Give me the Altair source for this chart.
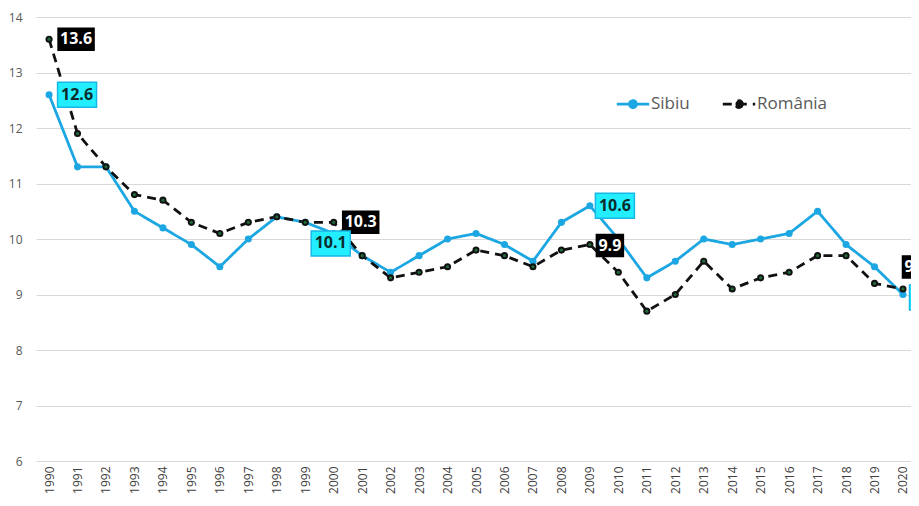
import altair as alt
import pandas as pd

years = list(range(1990, 2021))
sibiu = [12.6, 11.3, 11.3, 10.5, 10.2, 9.9, 9.5, 10.0, 10.4, 10.3, 10.1, 9.7, 9.4, 9.7, 10.0,
         10.1, 9.9, 9.6, 10.3, 10.6, 10.0, 9.3, 9.6, 10.0, 9.9, 10.0, 10.1, 10.5, 9.9, 9.5, 9.0]
romania = [13.6, 11.9, 11.3, 10.8, 10.7, 10.3, 10.1, 10.3, 10.4, 10.3, 10.3, 9.7, 9.3, 9.4, 9.5,
           9.8, 9.7, 9.5, 9.8, 9.9, 9.4, 8.7, 9.0, 9.6, 9.1, 9.3, 9.4, 9.7, 9.7, 9.2, 9.1]
series_names = ["Sibiu", "România"]
labelled_points = [("România", 1990), ("Sibiu", 1990), ("România", 2000), ("Sibiu", 2000),
                   ("Sibiu", 2009), ("România", 2009), ("România", 2020), ("Sibiu", 2020)]

BLUE = "#1DA7E2"
FONT = "Open Sans"

rows = []
for name, vals in zip(series_names, [sibiu, romania]):
    for y, v in zip(years, vals):
        rows.append({"year": y, "value": v, "series": name})
df = pd.DataFrame(rows)

x_enc = alt.X("year:O", title=None,
              scale=alt.Scale(type="point", padding=0.37, align=0.62),
              axis=alt.Axis(labelAngle=270, labelFontSize=12, labelColor="#404040",
                            labelFont=FONT, ticks=False, domain=False, labelPadding=5,
                            grid=False))
y_enc = alt.Y("value:Q", title=None, scale=alt.Scale(domain=[6, 14], nice=False, zero=False),
              axis=alt.Axis(values=list(range(6, 15)), labelFontSize=12, labelColor="#595959",
                            labelFont=FONT, ticks=False, domain=False, labelPadding=14,
                            grid=True, gridColor="#D9D9D9", gridWidth=1))

legend_path = ("M-1,0L1,0M0.22,0A0.22,0.22,0,1,1,-0.22,0A0.22,0.22,0,1,1,0.22,0")
color_scale = alt.Scale(domain=series_names, range=[BLUE, "#111111"])
legend = alt.Legend(title=None, orient="none", legendX=579, legendY=69, direction="horizontal",
                    symbolType=legend_path, symbolSize=1050, symbolStrokeWidth=2.6,
                    labelFontSize=17, labelColor="#595959", labelFont=FONT,
                    columnPadding=27, labelOffset=0)

base = alt.Chart(df).encode(x=x_enc, y=y_enc)

lines = base.mark_line(strokeWidth=2.8).encode(
    color=alt.Color("series:N", scale=color_scale, legend=legend),
    strokeDash=alt.StrokeDash("series:N",
                              scale=alt.Scale(domain=series_names, range=[[1, 0], [9, 6]]),
                              legend=legend),
)
points = base.mark_point(filled=True, size=50, opacity=1).encode(
    color=alt.Color("series:N", scale=color_scale, legend=legend),
)
inner = base.transform_filter(alt.datum.series == "România").mark_point(
    filled=True, size=10, color="#1F6B3A", opacity=1)

layers = [lines, points, inner]

offsets = {
    ("România", 1990): (27, 0), ("Sibiu", 1990): (28, 0),
    ("România", 2000): (27, 0), ("Sibiu", 2000): (-3, 10),
    ("Sibiu", 2009): (25, 0), ("România", 2009): (20, 1),
    ("România", 2020): (13, -22), ("Sibiu", 2020): (20, 3),
}
for (name, yr) in labelled_points:
    dx, dy = offsets[(name, yr)]
    sub = df[(df.series == name) & (df.year == yr)].copy()
    sub["label"] = sub["value"].map(lambda v: f"{v:.1f}")
    txt_len = len(sub["label"].iloc[0])
    is_sib = name == "Sibiu"
    w = (39 if is_sib else 36) if txt_len == 4 else 27
    h = 25 if is_sib else 22
    r = h / w
    shape = f"M-1,-{r:.3f}L1,-{r:.3f}L1,{r:.3f}L-1,{r:.3f}Z"
    box = alt.Chart(sub).mark_point(
        shape=shape, size=w * w, filled=True, opacity=1, clip=True,
        fill="#22EEFF" if is_sib else "#000000",
        stroke="#18B8E6" if is_sib else "#000000", strokeWidth=1.5,
        xOffset=dx, yOffset=dy,
    ).encode(x=x_enc, y=y_enc)
    text = alt.Chart(sub).mark_text(
        fontSize=16, fontWeight="bold", font=FONT, clip=True,
        color="#0B2B2B" if is_sib else "#FFFFFF",
        dx=dx, dy=dy, align="center", baseline="middle",
    ).encode(x=x_enc, y=y_enc, text="label:N")
    layers += [box, text]

chart = alt.layer(*layers).properties(
    width=903, height=486,
    autosize=alt.AutoSizeParams(type="fit", contains="padding"),
    padding={"left": 0, "top": 3, "right": 0, "bottom": 0},
).configure_view(stroke=None)

chart.save("out.html", embed_options={"renderer": "svg", "actions": False})
